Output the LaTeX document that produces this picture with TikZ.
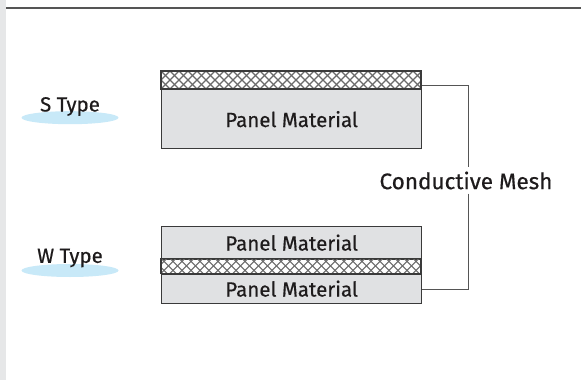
\documentclass[tikz,border=0pt]{standalone}
\usepackage{fontspec}
\setmainfont{Fira Sans}[FakeBold=0.5]
\definecolor{bargray}{HTML}{E6E7E8}
\definecolor{panelfill}{HTML}{E0E1E3}
\definecolor{edgegray}{HTML}{3A3A3A}
\definecolor{linegray}{HTML}{555555}
\definecolor{hatchgray}{HTML}{6A6A6A}
\definecolor{blobblue}{HTML}{C8E9F8}
\definecolor{txt}{HTML}{1E1B1C}
\tikzset{
  layerbox/.style={draw=edgegray, line width=1.3pt, fill=panelfill, inner sep=0pt, anchor=north west, minimum width=260pt},
  meshbox/.style={draw=edgegray, line width=1.3pt, fill=white, inner sep=0pt, anchor=north west, minimum width=260pt},
  lbl/.style={text=txt, font=\fontsize{20.5}{22}\selectfont},
  biglbl/.style={text=txt, font=\fontsize{22.5}{24}\selectfont},
  conn/.style={draw=linegray, line width=1pt},
  hatchline/.style={draw=hatchgray, line width=1.1pt},
  blob/.style={ellipse, fill=blobblue, minimum width=97pt, minimum height=13pt, inner sep=0pt},
}
\usetikzlibrary{shapes.geometric}
\begin{document}
\begin{tikzpicture}[x=1pt,y=-1pt]
\useasboundingbox (0,0) rectangle (581,380);
\fill[white] (0,0) rectangle (581,380);
\fill[bargray] (0,0) rectangle (6,380);
\draw[linegray, line width=2pt] (6,8) -- (581,8);

% type labels
\node[blob] (sblob) at (70,117.7) {};
\node[lbl, anchor=center] (stype) at (70,106.5) {S Type};
\node[blob] (wblob) at (70,270.5) {};
\node[lbl, anchor=center] (wtype) at (70,258) {W Type};

% S type
\node[meshbox, minimum height=18pt] (smesh) at (161,71) {};
\node[layerbox, minimum height=59pt] (spanel) at (161,89) {};
\node[lbl] at (spanel.center) {Panel Material};
\begin{scope}
\clip (161,71) rectangle (421,89);
\foreach \x in {125,134,...,430} {
  \draw[hatchline] (\x,71) -- ++(18,18);
  \draw[hatchline] (\x,89) -- ++(18,-18);
}
\end{scope}
\draw[edgegray, line width=1.3pt] (161,71) rectangle (421,89);

% W type
\node[layerbox, minimum height=32.6pt] (wtop) at (161,225.7) {};
\node[lbl] at (wtop.center) {Panel Material};
\node[meshbox, minimum height=15pt] (wmesh) at (161,258.3) {};
\node[layerbox, minimum height=29.4pt] (wbot) at (161,273.3) {};
\node[lbl] at (wbot.center) {Panel Material};
\begin{scope}
\clip (161,258.3) rectangle (421,273.3);
\foreach \x in {125,134,...,430} {
  \draw[hatchline] (\x,258.3) -- ++(15,15);
  \draw[hatchline] (\x,273.3) -- ++(15,-15);
}
\end{scope}
\draw[edgegray, line width=1.3pt] (161,258.3) rectangle (421,273.3);

% connector
\coordinate (c1) at (468,85);
\coordinate (c2) at (468,289);
\node[biglbl, inner xsep=0pt, inner ysep=4pt] (cm) at (466,180.5) {Conductive Mesh};
\draw[conn] (smesh.east |- c1) -- (c1) -- (c1 |- cm.north);
\draw[conn] (c2 |- cm.south) -- (c2) -- (wbot.east |- c2);
\end{tikzpicture}
\end{document}
